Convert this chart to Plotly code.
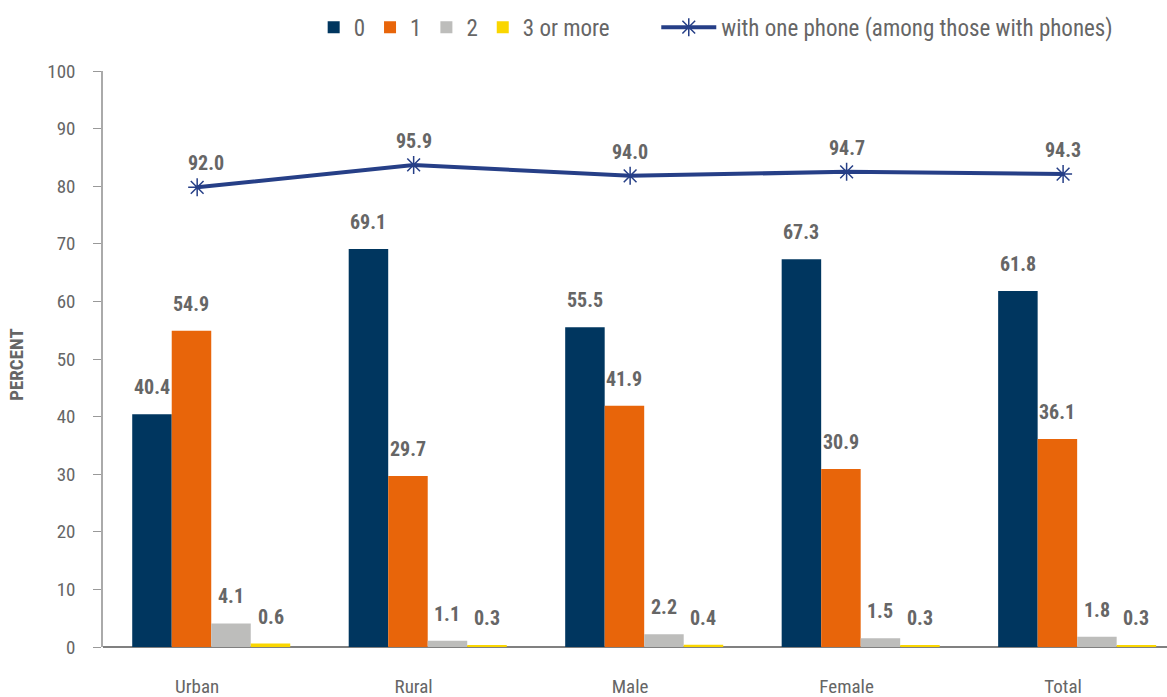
import plotly.graph_objects as go

categories = ["Urban", "Rural", "Male", "Female", "Total"]
series_names = ["0", "1", "2", "3 or more"]
phones_0 = [40.4, 69.1, 55.5, 67.3, 61.8]
phones_1 = [54.9, 29.7, 41.9, 30.9, 36.1]
phones_2 = [4.1, 1.1, 2.2, 1.5, 1.8]
phones_3plus = [0.6, 0.3, 0.4, 0.3, 0.3]
one_phone = [92.0, 95.9, 94.0, 94.7, 94.3]
line_name = "with one phone (among those with phones)"
y_ticks = [0, 10, 20, 30, 40, 50, 60, 70, 80, 90, 100]

colors = ["#00365F", "#E8650A", "#BDBDBB", "#FAD600"]
line_color = "#263F87"
FONT = "Liberation Sans Narrow, Roboto Condensed, DejaVu Sans Condensed, Arial Narrow, sans-serif"
TXT = "#666666"

xpos = list(range(len(categories)))
label_off = -0.065  # category labels / line points sit slightly left of group centre
xlab = [p + label_off for p in xpos]

fig = go.Figure()
all_series = [phones_0, phones_1, phones_2, phones_3plus]
for name, vals, c in zip(series_names, all_series, colors):
    fig.add_trace(go.Bar(x=xpos, y=vals, name=name, marker_color=c,
                         marker_line_width=0, legend="legend"))

fig.add_trace(go.Scatter(x=xlab, y=one_phone, name=line_name, mode="lines+markers",
                         line=dict(color=line_color, width=4),
                         marker=dict(symbol="asterisk-open", size=15,
                                     line=dict(color=line_color, width=1.5)),
                         yaxis="y2", legend="legend2"))

# bar value labels
bw = 0.73 / 4
for i, vals in enumerate(all_series):
    for j, v in enumerate(vals):
        fig.add_annotation(x=xpos[j] + (i - 1.5) * bw, y=v, text=f"{v:.1f}",
                           showarrow=False, yanchor="bottom", yshift=13,
                           font=dict(family=FONT, size=20, color=TXT, weight="bold"))
# line labels
for j, v in enumerate(one_phone):
    fig.add_annotation(x=xlab[j], y=v, yref="y2", text=f"{v:.1f}", showarrow=False,
                       yanchor="bottom", yshift=10, xshift=9 if j == 0 else 0,
                       font=dict(family=FONT, size=20, color=TXT, weight="bold"))

fig.add_annotation(x=0, xref="paper", y=0.49, yref="paper", text="<b>PERCENT</b>",
                   textangle=-90, showarrow=False, xanchor="center", xshift=-86,
                   font=dict(family=FONT, size=19, color=TXT))

fig.update_layout(
    width=1167, height=697,
    margin=dict(l=103, r=0, t=71, b=50),
    paper_bgcolor="white", plot_bgcolor="white",
    barmode="group", bargap=0.27, bargroupgap=0,
    font=dict(family=FONT, color=TXT, size=18),
    xaxis=dict(range=[-0.5, 4.415], tickvals=xlab, ticktext=categories,
               showgrid=False, zeroline=False, showline=False, ticks="",
               ticklabelstandoff=26, tickfont=dict(size=19)),
    yaxis=dict(range=[0, 100], tickvals=y_ticks, showgrid=False, zeroline=True,
               zerolinecolor="#808080", zerolinewidth=1.5,
               showline=True, linecolor="#AAAAAA", linewidth=1.5,
               ticks="outside", ticklen=8, tickcolor="#999999",
               ticklabelstandoff=14, tickfont=dict(size=19)),
    yaxis2=dict(range=[12.2, 112.2], overlaying="y", visible=False),
    legend=dict(orientation="h", x=0.198, y=1.076, xanchor="left", yanchor="middle",
                font=dict(size=23, color=TXT), itemwidth=30, traceorder="normal",
                bgcolor="rgba(0,0,0,0)"),
    legend2=dict(orientation="h", x=0.52, y=1.076, xanchor="left", yanchor="middle",
                 font=dict(size=23, color=TXT), itemwidth=55,
                 bgcolor="rgba(0,0,0,0)"),
    showlegend=True,
)

fig.write_html("out.html")
